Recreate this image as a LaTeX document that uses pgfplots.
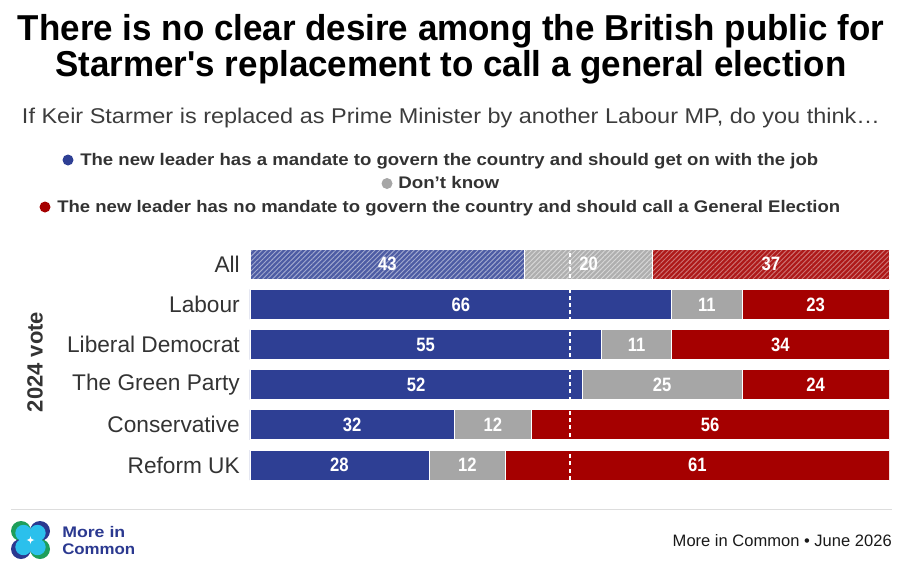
\documentclass[border=0pt]{standalone}
\usepackage{pgfplots}
\pgfplotsset{compat=1.18}
\usepackage{fontspec}
\usepackage{graphicx}
\setmainfont{Liberation Sans}
\newfontfamily\cond[FakeStretch=0.86]{Liberation Sans}
\usetikzlibrary{patterns.meta}

\definecolor{mcblue}{HTML}{2E3F94}
\definecolor{mcgrey}{HTML}{A6A6A6}
\definecolor{mcred}{HTML}{A50000}
\definecolor{txt}{HTML}{333333}
\definecolor{subtxt}{HTML}{3C3C3C}
\definecolor{logoblue}{HTML}{2B3990}
\definecolor{logogreen}{HTML}{1E9E5A}
\definecolor{logocyan}{HTML}{2BC0EC}
\definecolor{rule}{HTML}{DDDDDD}

\newlength\natw
\newcommand\fitw[2]{\settowidth\natw{#2}\pgfmathsetmacro\sx{#1/\natw}\global\let\lastsx\sx\scalebox{\sx}[1]{#2}}

\pgfplotsset{
  mcaxis/.style={at={(187.5pt,-363.825pt)}, anchor=south west, scale only axis,
    width=479.25pt, height=180.675pt, xmin=0, xmax=100, ymin=-0.5, ymax=5.5,
    axis line style={draw=none}, xtick=\empty, ytick=\empty, major tick length=0pt},
}

\begin{document}
\begin{tikzpicture}
\path[use as bounding box] (0,0) rectangle (678pt,-432pt);
\begin{scope}[x=0.75pt,y=-0.75pt]
% title
\node[anchor=base, inner sep=0pt] at (451,40) {\fitw{649.5pt}{\fontsize{27pt}{30pt}\selectfont\bfseries There is no clear desire among the British public for}};
\node[anchor=base, inner sep=0pt] at (451,76) {\scalebox{\lastsx}[1]{\fontsize{27pt}{30pt}\selectfont\bfseries Starmer\textquotesingle s replacement to call a general election}};
% subtitle
\node[anchor=base, inner sep=0pt, text=subtxt] at (451,123) {\fitw{643.5pt}{\fontsize{16pt}{18pt}\selectfont If Keir Starmer is replaced as Prime Minister by another Labour MP, do you think…}};
% legend
\fill[mcblue] (68,160) circle (5.5);
\node[anchor=base west, inner sep=0pt, text=txt] at (80,165) {\fitw{553.5pt}{\fontsize{12.6pt}{14pt}\selectfont\bfseries The new leader has a mandate to govern the country and should get on with the job}};
\fill[mcgrey] (387,183.5) circle (5.5);
\node[anchor=base west, inner sep=0pt, text=txt] at (398,188.5) {\fitw{75.75pt}{\fontsize{12.6pt}{14pt}\selectfont\bfseries Don’t know}};
\fill[mcred] (45,207) circle (5.5);
\node[anchor=base west, inner sep=0pt, text=txt] at (57,212) {\fitw{587.25pt}{\fontsize{12.6pt}{14pt}\selectfont\bfseries The new leader has no mandate to govern the country and should call a General Election}};
% y label
\node[rotate=90, inner sep=0pt, text=txt, font=\bfseries\fontsize{16.5pt}{18pt}\selectfont] at (35,362) {2024 vote};
% footer
\draw[rule, line width=0.75pt] (11,509.3) -- (892,509.3);
\node[anchor=base east, inner sep=0pt, text=black!90] at (892,546.5) {\fitw{164.25pt}{\fontsize{12.4pt}{14pt}\selectfont More in Common • June 2026}};
% logo
\fill[logogreen] (21,531) circle (10);
\fill[logoblue] (40,531) circle (10);
\fill[logoblue] (21,549) circle (10);
\fill[logogreen] (40,549) circle (10);
\fill[logocyan] (23.5,533) circle (8.2);
\fill[logocyan] (37.5,533) circle (8.2);
\fill[logocyan] (23.5,547) circle (8.2);
\fill[logocyan] (37.5,547) circle (8.2);
\fill[white] (30.5,536) .. controls (30.5,539) .. (34.5,540) .. controls (30.5,541) .. (30.5,544) .. controls (30.5,541) .. (26.5,540) .. controls (30.5,539) .. (30.5,536) -- cycle;
\node[anchor=base west, inner sep=0pt, text=logoblue] at (62,537.5) {\fitw{47.25pt}{\fontsize{11.5pt}{13pt}\selectfont\bfseries More in}};
\node[anchor=base west, inner sep=0pt, text=logoblue] at (62,554.3) {\fitw{54.75pt}{\fontsize{11.5pt}{13pt}\selectfont\bfseries Common}};
\end{scope}

% All row (hatched)
\begin{axis}[mcaxis, xbar stacked, bar width=22.5pt]
\addplot[fill=mcblue!85!white, draw=white, line width=0.6pt, postaction={pattern={Lines[angle=45,distance=2.6pt,line width=0.7pt]}, pattern color=white!55!mcblue}] coordinates {(43,5)};
\addplot[fill=mcgrey!90!white, draw=white, line width=0.6pt, postaction={pattern={Lines[angle=45,distance=2.6pt,line width=0.7pt]}, pattern color=white!55!mcgrey}] coordinates {(20,5)};
\addplot[fill=mcred!90!white, draw=white, line width=0.6pt, postaction={pattern={Lines[angle=45,distance=2.6pt,line width=0.7pt]}, pattern color=white!45!mcred}] coordinates {(37,5)};
\end{axis}

% party rows
\begin{axis}[mcaxis, xbar stacked, bar width=22.5pt,
  ytick={0,1,2,3,4,5},
  yticklabels={Reform UK,Conservative,The Green Party,Liberal Democrat,Labour,All},
  yticklabel style={font=\fontsize{17pt}{19pt}\selectfont, text=txt, anchor=east, inner sep=0pt, xshift=-7.5pt}]
\addplot[fill=mcblue, draw=white, line width=0.6pt] coordinates {(28,0) (32,1) (52,2) (55,3) (66,4)};
\addplot[fill=mcgrey, draw=white, line width=0.6pt] coordinates {(12,0) (12,1) (25,2) (11,3) (11,4)};
\addplot[fill=mcred, draw=white, line width=0.6pt] coordinates {(61,0) (56,1) (24,2) (34,3) (23,4)};
\end{axis}

% dashed midline and value labels
\begin{axis}[mcaxis]
\addplot[white, line width=1.5pt, dash pattern=on 3pt off 2.4pt] coordinates {(50,-0.37) (50,5.37)};
\addplot[only marks, mark=*, mark size=0pt, mark options={draw opacity=0, fill opacity=0},
  nodes near coords, point meta=explicit symbolic,
  nodes near coords style={anchor=center, text=white, text opacity=1, inner sep=0pt, font=\cond\bfseries\fontsize{14.5pt}{16pt}\selectfont}]
  coordinates {
  (21.5,5) [43] (53,5) [20] (81.5,5) [37]
  (33,4) [66] (71.5,4) [11] (88.5,4) [23]
  (27.5,3) [55] (60.5,3) [11] (83,3) [34]
  (26,2) [52] (64.5,2) [25] (88.5,2) [24]
  (16,1) [32] (38,1) [12] (72,1) [56]
  (14,0) [28] (34,0) [12] (70,0) [61]
  };
\end{axis}
\end{tikzpicture}
\end{document}
